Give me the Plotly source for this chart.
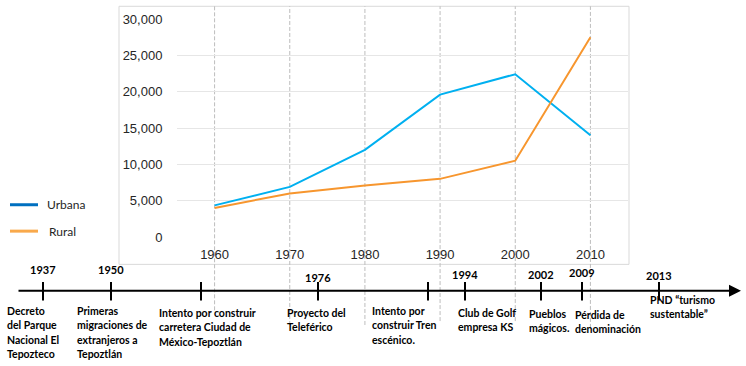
import plotly.graph_objects as go

# ---------------- data ----------------
years = [1960, 1970, 1980, 1990, 2000, 2010]
urbana = [4350, 6900, 12000, 19600, 22400, 14000]
rural = [4000, 6000, 7100, 8000, 10500, 27500]
y_ticks = [0, 5000, 10000, 15000, 20000, 25000, 30000]

series_names = ["Urbana", "Rural"]

timeline_years = ["1937", "1950", "", "1976", "", "1994", "2002", "2009", "2013"]
timeline_events = [
    ["Decreto", "del Parque", "Nacional El", "Tepozteco"],
    ["Primeras", "migraciones de", "extranjeros a", "Tepoztlán"],
    ["Intento por construir", "carretera Ciudad de", "México-Tepoztlán"],
    ["Proyecto del", "Teleférico"],
    ["Intento por", "construir Tren", "escénico."],
    ["Club de Golf", "empresa KS"],
    ["Pueblos", "mágicos."],
    ["Pérdida de", "denominación"],
    ["PND “turismo", "sustentable”"],
]

# ---------------- layout helpers (pixel positions) ----------------
W, H = 746, 366
L, R, T, B = 177, 628, 14, 237  # plot area in pixels


def px(xp):
    return (xp - L) / (R - L)


def py(yp):
    return (B - yp) / (B - T)


# timeline geometry (pixels)
tick_x = [43, 111, 201, 318, 428, 465, 541, 582, 659]
year_y = [270, 270, 0, 278, 0, 275, 275, 273, 276]
desc_x = [5, 75, 157, 285, 370, 456, 527, 573, 648]
desc_first = [313, 313, 315, 315, 313, 315, 316, 317, 301]
line_gap = 14.5
grid_bottom = [312, 327, 327, 323, 323, 330]

BLUE = "#00B0F0"
ORANGE = "#F7962E"

fig = go.Figure()
fig.add_trace(go.Scatter(x=years, y=urbana, mode="lines", name=series_names[0],
                         line=dict(color=BLUE, width=2), showlegend=False))
fig.add_trace(go.Scatter(x=years, y=rural, mode="lines", name=series_names[1],
                         line=dict(color=ORANGE, width=2), showlegend=False))

shapes = []
annotations = []

# chart frame
shapes.append(dict(type="rect", xref="paper", yref="paper",
                   x0=px(119), x1=px(629), y0=py(265), y1=py(1),
                   line=dict(color="#d9d9d9", width=1), layer="below"))

# dashed vertical lines at each year
for yr, gb in zip(years, grid_bottom):
    shapes.append(dict(type="line", xref="x", yref="paper", x0=yr, x1=yr,
                       y0=py(gb), y1=py(1),
                       line=dict(color="#bdbdbd", width=1, dash="4px,2px"), layer="below"))

# timeline arrow
annotations.append(dict(x=px(741), y=py(292), xref="paper", yref="paper",
                        ax=-(741 - 17), ay=0, axref="pixel", ayref="pixel",
                        text="", showarrow=True, arrowhead=2, arrowsize=1.2,
                        arrowwidth=2, arrowcolor="black"))

for i, tx in enumerate(tick_x):
    shapes.append(dict(type="line", xref="paper", yref="paper",
                       x0=px(tx), x1=px(tx), y0=py(302), y1=py(283),
                       line=dict(color="black", width=2)))
    if timeline_years[i]:
        annotations.append(dict(x=px(tx), y=py(year_y[i]), xref="paper", yref="paper",
                                text="<b>" + timeline_years[i] + "</b>", showarrow=False,
                                xanchor="center", yanchor="middle",
                                font=dict(family="Lato", size=11, color="black")))
    for j, line in enumerate(timeline_events[i]):
        annotations.append(dict(x=px(desc_x[i]), y=py(desc_first[i] + j * line_gap),
                                xref="paper", yref="paper",
                                text="<b>" + line + "</b>", showarrow=False,
                                xanchor="left", yanchor="middle", align="left",
                                font=dict(family="Lato", size=10.5, color="black")))

# legend
legend_colors = ["#0070C0", "#F9A94B"]
legend_y = [204, 231]
legend_text_x = [45, 47]
for name, c, ly, lx in zip(series_names, legend_colors, legend_y, legend_text_x):
    shapes.append(dict(type="line", xref="paper", yref="paper",
                       x0=px(10), x1=px(38), y0=py(ly), y1=py(ly),
                       line=dict(color=c, width=3)))
    annotations.append(dict(x=px(lx), y=py(ly), xref="paper", yref="paper",
                            text=name, showarrow=False, xanchor="left", yanchor="middle",
                            font=dict(family="Lato", size=12, color="#262626")))

fig.update_layout(
    width=W, height=H,
    margin=dict(l=L, r=W - R, t=T, b=H - B),
    paper_bgcolor="white", plot_bgcolor="white",
    showlegend=False,
    xaxis=dict(range=[1955, 2015], tickvals=years, showgrid=False, zeroline=False,
               showline=False, ticks="outside", ticklen=5, tickcolor="rgba(0,0,0,0)",
               tickfont=dict(family="Liberation Sans", size=13, color="#262626")),
    yaxis=dict(range=[0, 30000], tickvals=y_ticks, tickformat=",", showgrid=True,
               gridcolor="#e6e6e6", gridwidth=1, zeroline=False, showline=False,
               ticks="outside", ticklen=11, tickcolor="rgba(0,0,0,0)",
               tickfont=dict(family="Liberation Sans", size=13, color="#262626")),
    shapes=shapes, annotations=annotations,
)

fig.write_html("out.html", config={"displayModeBar": False},
               post_script="document.body.style.margin='0';document.body.style.padding='0';")
